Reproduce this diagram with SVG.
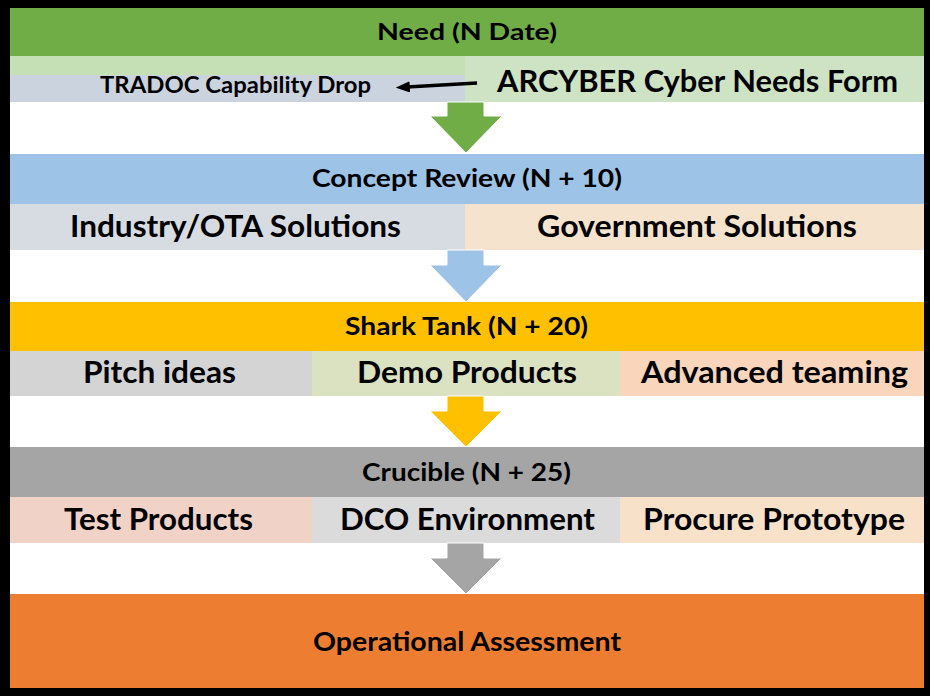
<svg xmlns="http://www.w3.org/2000/svg" width="930" height="696" viewBox="0 0 930 696">
<style>
  text { font-family: "Lato", "Open Sans", "Liberation Sans", sans-serif; font-weight: bold; fill: #000; text-anchor: middle; }
  .h { font-size: 24px; }
  .s { font-size: 30px; }
  .t { font-size: 22px; }
  .arrow { stroke: #ffffff; stroke-width: 1; }
</style>
<defs>
  <marker id="ah" viewBox="0 0 10 10" refX="2" refY="5" markerWidth="4" markerHeight="3.2" orient="auto-start-reverse" markerUnits="strokeWidth" preserveAspectRatio="none">
    <path d="M0,0 L10,5 L0,10 z" fill="#000"/>
  </marker>
</defs>
<rect x="0" y="0" width="930" height="696" fill="#000"/>
<rect x="10" y="8" width="914" height="680" fill="#ffffff"/>

<g id="need">
  <rect x="10" y="8" width="914" height="48" fill="#70ad47"/>
  <text class="t" x="467" y="40" textLength="180" lengthAdjust="spacingAndGlyphs">Need (N Date)</text>
</g>
<g id="need-strip">
  <rect x="10" y="56" width="455" height="19" fill="#c5e0b4"/>
</g>
<g id="tradoc">
  <rect x="10" y="75" width="455" height="27" fill="#cad3de"/>
  <text class="t" x="235.5" y="93" textLength="271" lengthAdjust="spacingAndGlyphs">TRADOC Capability Drop</text>
</g>
<g id="arcyber">
  <rect x="465" y="56" width="459" height="46" fill="#cee2c4"/>
  <text class="s" x="697.5" y="92" textLength="401" lengthAdjust="spacingAndGlyphs">ARCYBER Cyber Needs Form</text>
</g>

<g id="concept">
  <rect x="10" y="154" width="914" height="50" fill="#9dc3e6"/>
  <text class="h" x="467" y="187" textLength="310" lengthAdjust="spacingAndGlyphs">Concept Review (N + 10)</text>
</g>
<g id="industry">
  <rect x="10" y="204" width="455" height="46" fill="#d7dce3"/>
  <text class="s" x="235.5" y="237" textLength="331" lengthAdjust="spacingAndGlyphs">Industry/OTA Solutions</text>
</g>
<g id="government">
  <rect x="465" y="204" width="459" height="46" fill="#f6e3cd"/>
  <text class="s" x="697" y="237" textLength="320" lengthAdjust="spacingAndGlyphs">Government Solutions</text>
</g>

<g id="sharktank">
  <rect x="10" y="302" width="914" height="49" fill="#ffc000"/>
  <text class="h" x="466.5" y="335" textLength="243" lengthAdjust="spacingAndGlyphs">Shark Tank (N + 20)</text>
</g>
<g id="pitch">
  <rect x="10" y="351" width="302" height="45" fill="#d4d4d4"/>
  <text class="s" x="159.5" y="383" textLength="153" lengthAdjust="spacingAndGlyphs">Pitch ideas</text>
</g>
<g id="demo">
  <rect x="312" y="351" width="308" height="45" fill="#dae2c2"/>
  <text class="s" x="467" y="383" textLength="220" lengthAdjust="spacingAndGlyphs">Demo Products</text>
</g>
<g id="advanced">
  <rect x="620" y="351" width="304" height="45" fill="#f8d5bb"/>
  <text class="s" x="774.5" y="383" textLength="267" lengthAdjust="spacingAndGlyphs">Advanced teaming</text>
</g>

<g id="crucible">
  <rect x="10" y="447" width="914" height="50" fill="#a5a5a5"/>
  <text class="h" x="466.5" y="481" textLength="209" lengthAdjust="spacingAndGlyphs">Crucible (N + 25)</text>
</g>
<g id="test">
  <rect x="10" y="497" width="302" height="46" fill="#f0d2c7"/>
  <text class="s" x="158.5" y="530" textLength="189" lengthAdjust="spacingAndGlyphs">Test Products</text>
</g>
<g id="dco">
  <rect x="312" y="497" width="308" height="46" fill="#dbdbdb"/>
  <text class="s" x="467.5" y="530" textLength="255" lengthAdjust="spacingAndGlyphs">DCO Environment</text>
</g>
<g id="procure">
  <rect x="620" y="497" width="304" height="46" fill="#f7e1c9"/>
  <text class="s" x="774" y="530" textLength="262" lengthAdjust="spacingAndGlyphs">Procure Prototype</text>
</g>

<g id="operational">
  <rect x="10" y="594" width="914" height="94" fill="#ed7d31"/>
  <text x="467" y="651" font-size="26" textLength="308" lengthAdjust="spacingAndGlyphs">Operational Assessment</text>
</g>

<g id="connectors">
  <polygon class="arrow" fill="#70ad47" points="447,102 484,102 484,116 502,116 466,153 430,116 447,116"/>
  <polygon class="arrow" fill="#9dc3e6" points="447,250 484,250 484,265 502,265 466,302 430,265 447,265"/>
  <polygon class="arrow" fill="#ffc000" points="447,396 484,396 484,411 502,411 466,447 430,411 447,411"/>
  <polygon class="arrow" fill="#a5a5a5" points="447,543 484,543 484,558 502,558 466,594 430,558 447,558"/>
  <path d="M477,83 L407,87" stroke="#000" stroke-width="3.5" fill="none" marker-end="url(#ah)"/>
</g>
</svg>
